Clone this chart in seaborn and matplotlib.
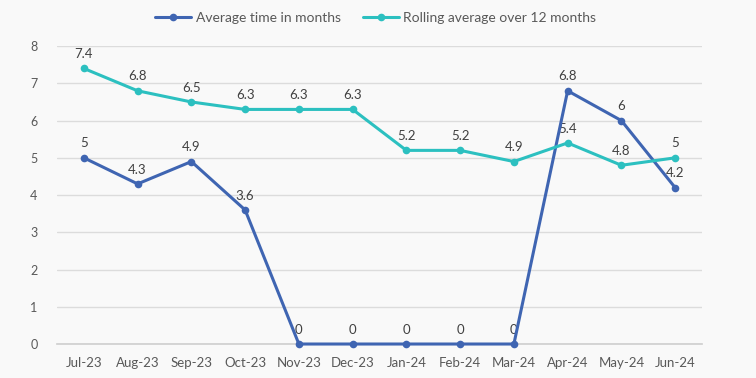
import numpy as np
import pandas as pd
import matplotlib.pyplot as plt
import seaborn as sns

# ── Data ──────────────────────────────────────────────────────────────────────
months   = ["Jul-23", "Aug-23", "Sep-23", "Oct-23", "Nov-23", "Dec-23",
            "Jan-24", "Feb-24", "Mar-24", "Apr-24", "May-24", "Jun-24"]
avg_time = [5, 4.3, 4.9, 3.6, 0, 0, 0, 0, 0, 6.8, 6, 4.2]
rolling  = [7.4, 6.8, 6.5, 6.3, 6.3, 6.3, 5.2, 5.2, 4.9, 5.4, 4.8, 5]

series_names = ["Average time in months", "Rolling average over 12 months"]
colors       = ["#3F65B2", "#2CC0C0"]

df = pd.DataFrame({
    "x": list(range(len(months))) * 2,
    "value": avg_time + rolling,
    "series": [series_names[0]] * len(months) + [series_names[1]] * len(months),
})

# ── Style ─────────────────────────────────────────────────────────────────────
sns.set_theme(style="white")
plt.rcParams["font.family"] = ["Lato", "DejaVu Sans"]
BG = "#F9F9F9"
TXT = "#595959"

fig = plt.figure(figsize=(7.56, 3.78), dpi=100, facecolor=BG)
ax = fig.add_axes([0.0754, 0.0899, 0.8532, 0.7881], facecolor=BG)

sns.lineplot(data=df, x="x", y="value", hue="series", palette=colors,
             marker="o", markersize=5.5, markeredgewidth=0, linewidth=2.2,
             ax=ax, legend=False)
for ln in ax.get_lines():
    ln.set_clip_on(False)
    ln.set_zorder(5)

# data labels
for vals, name in [(avg_time, series_names[0]), (rolling, series_names[1])]:
    for i, v in enumerate(vals):
        ax.annotate(f"{v:g}", (i, v), xytext=(0, 6), textcoords="offset points",
                    ha="center", va="bottom", fontsize=9.5, color="#404040")

# ── Axes ──────────────────────────────────────────────────────────────────────
ax.set_xlim(-0.5, len(months) - 0.5)
ax.set_ylim(0, 8)
ax.set_yticks(range(0, 9))
ax.set_xticks(range(len(months)))
ax.set_xticklabels(months)
ax.set_xticks(np.arange(-0.5, len(months), 1), minor=True)
ax.tick_params(axis="x", which="major", length=0, pad=9, labelsize=9.5, labelcolor=TXT)
ax.tick_params(axis="x", which="minor", length=5, color="#D0D0D0", width=1)
ax.tick_params(axis="y", length=0, pad=14, labelsize=9, labelcolor=TXT)
ax.set_xlabel("")
ax.set_ylabel("")
ax.grid(axis="y", color="#DCDCDC", linewidth=1)
for s in ["left", "right", "top"]:
    ax.spines[s].set_visible(False)
ax.spines["bottom"].set_color("#D0D0D0")
ax.set_axisbelow(True)

# legend
handles = [plt.Line2D([], [], color=c, marker="o", markersize=5.5,
                      markeredgewidth=0, linewidth=2.2) for c in colors]
fig.legend(handles, series_names, loc="center", bbox_to_anchor=(0.497, 0.952),
           ncol=2, frameon=False, fontsize=10, labelcolor=TXT,
           handlelength=2.6, handletextpad=0.3, columnspacing=1.6)

plt.savefig("out.png", dpi=100, facecolor=BG)
